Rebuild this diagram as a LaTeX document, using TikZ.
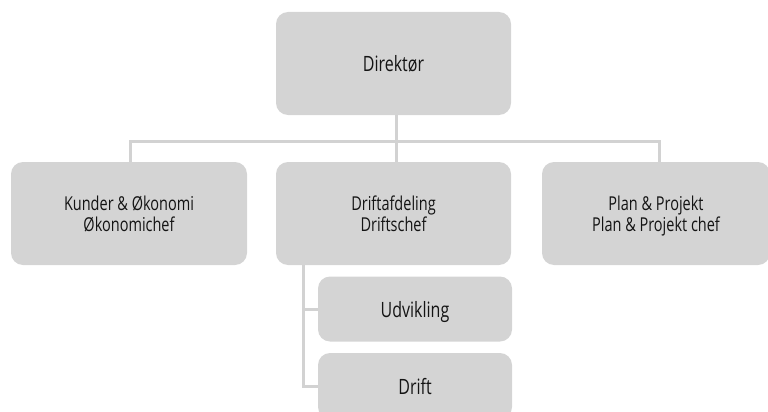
\documentclass[tikz,border=0pt]{standalone}
\usepackage{fontspec}
\usepackage{graphicx}
\setmainfont{Open Sans}
\definecolor{boxfill}{HTML}{D4D4D4}
\definecolor{linkgray}{HTML}{D2D2D2}
\definecolor{txt}{HTML}{141414}
% tall, narrow lettering, set slightly low in its box
\newcommand{\tall}[1]{\raisebox{-3.5pt}[\height][\depth]{\scalebox{1}[1.32]{\begin{tabular}{@{}c@{}}#1\end{tabular}}}}
\begin{document}
\begin{tikzpicture}[x=1pt,y=-1pt,
  unit/.style={fill=boxfill, rounded corners=12pt, inner sep=0pt,
    align=center, text=txt, font=\fontsize{16}{16}\selectfont},
  pair/.style={unit, font=\fontsize{14.5}{16}\selectfont},
  link/.style={draw=linkgray, line width=3pt}]
\useasboundingbox (0,0) rectangle (768,412);
\clip (0,0) rectangle (768,412);
% boxes
\node[unit, minimum width=235pt, minimum height=103pt] (dir) at (393.5,63.5) {\tall{Direktør}};
\node[pair, minimum width=236pt, minimum height=103pt] (oek) at (129,213.5) {\tall{Kunder \& Økonomi\\Økonomichef}};
\node[pair, minimum width=235pt, minimum height=103pt] (drf) at (393.5,213.5) {\tall{Driftafdeling\\Driftschef}};
\node[pair, minimum width=228pt, minimum height=103pt] (pp) at (656,213.5) {\tall{Plan \& Projekt\\Plan \& Projekt chef}};
\node[unit, minimum width=194pt, minimum height=65pt] (udv) at (415,309) {\tall{Udvikling}};
\node[unit, minimum width=194pt, minimum height=66pt] (drift) at (415,386) {\tall{Drift}};
% connectors
\coordinate (bar) at (396,141);
\draw[link] (dir.south -| bar) -- (bar);
\draw[link] (oek.north -| 130,0) |- (bar) -| (pp.north -| 659,0);
\draw[link] (bar) -- (drf.north -| bar);
\coordinate (stem) at (303,0);
\draw[link] (drf.south -| stem) |- (drift.west |- 0,386);
\draw[link] (udv.west -| stem) -- (udv.west);
\end{tikzpicture}
\end{document}
